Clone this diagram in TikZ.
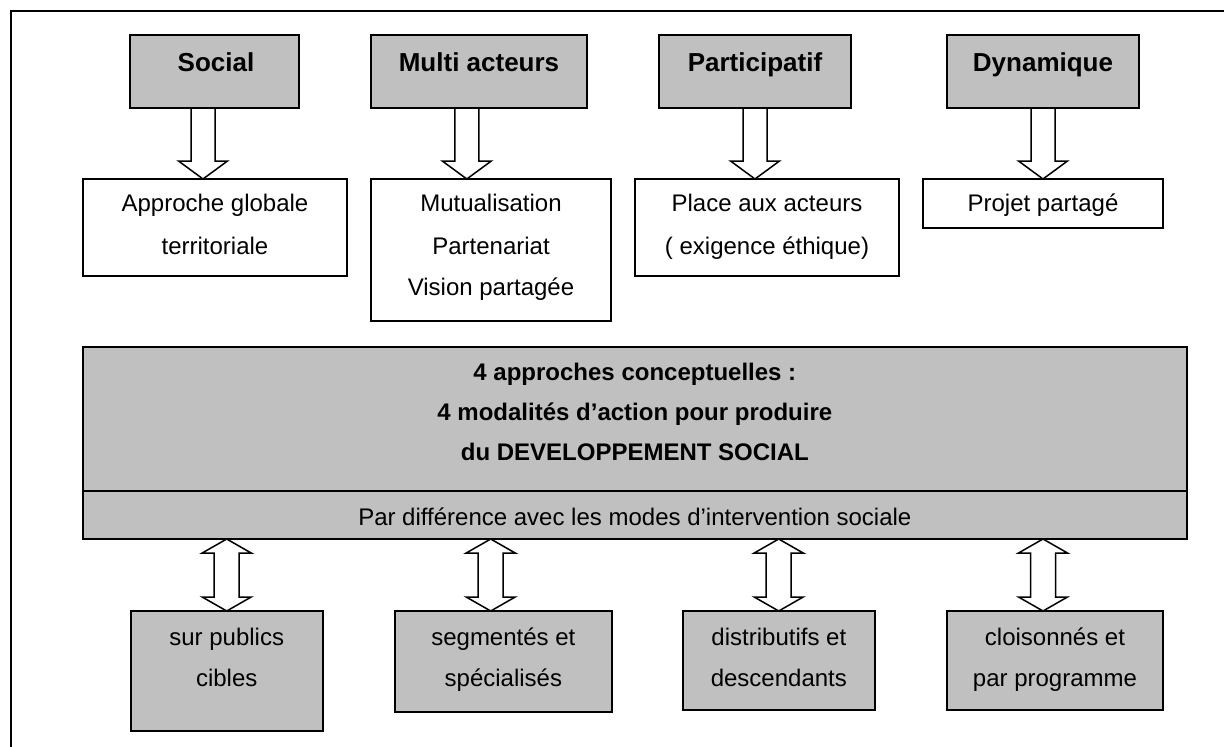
\documentclass[tikz,border=0pt]{standalone}
\usepackage{fontspec}
\setmainfont{Liberation Sans}
\usetikzlibrary{calc}
\definecolor{boxgray}{RGB}{192,192,192}
\newcommand{\blkdown}[3]{%
  \draw[blkarrow] let \p1=(#2.south), \p2=(#3.north) in
    (#1pt-12pt,\y1) -- (#1pt-12pt,\y2+18pt) -- (#1pt-24.5pt,\y2+18pt) -- (#1pt,\y2)
    -- (#1pt+24.5pt,\y2+18pt) -- (#1pt+12pt,\y2+18pt) -- (#1pt+12pt,\y1) -- cycle;}
\newcommand{\blkboth}[3]{%
  \draw[blkarrow] let \p1=(#2.south), \p2=(#3.north) in
    (#1pt,\y1) -- (#1pt+24.5pt,\y1-14pt) -- (#1pt+12.5pt,\y1-14pt)
    -- (#1pt+12.5pt,\y2+14pt) -- (#1pt+24.5pt,\y2+14pt) -- (#1pt,\y2)
    -- (#1pt-24.5pt,\y2+14pt) -- (#1pt-12.5pt,\y2+14pt)
    -- (#1pt-12.5pt,\y1-14pt) -- (#1pt-24.5pt,\y1-14pt) -- cycle;}
\begin{document}
\begin{tikzpicture}[x=1pt,y=-1pt,
  graybox/.style={draw=black, fill=boxgray, line width=1.8pt, rectangle, inner sep=0pt, outer sep=0pt},
  whitebox/.style={draw=black, fill=white, line width=1.8pt, rectangle, inner sep=0pt, outer sep=0pt},
  blkarrow/.style={draw=black, fill=white, line width=1.5pt, line join=miter},
  txt/.style={font=\fontsize{24}{28}\selectfont, inner sep=0pt, anchor=base},
  ttl/.style={font=\fontsize{26}{30}\selectfont\bfseries, inner sep=0pt, anchor=base},
  mtl/.style={font=\fontsize{24}{28}\selectfont\bfseries, inner sep=0pt, anchor=base}]
\useasboundingbox (0,0) rectangle (1224,747);
\fill[white] (0,0) rectangle (1224,747);
% outer frame
\draw[line width=2.2pt] (11,748) -- (11,11) -- (1225,11);

% top gray boxes
\node[graybox, minimum width=169, minimum height=73] (social) at (214.5,71.5) {};
\node[graybox, minimum width=216, minimum height=73] (multi) at (479,71.5) {};
\node[graybox, minimum width=192, minimum height=73] (partic) at (755,71.5) {};
\node[graybox, minimum width=192, minimum height=73] (dyn) at (1043,71.5) {};
\node[ttl] (socialt) at (216,71.5) {Social};
\node[ttl] (multit) at (479,71.5) {Multi acteurs};
\node[ttl] (partict) at (755,71.5) {Participatif};
\node[ttl] (dynt) at (1043,71.5) {Dynamique};

% second row white boxes
\node[whitebox, minimum width=264, minimum height=96.7] (approche) at (215,227.35) {};
\node[whitebox, minimum width=240, minimum height=142] (mutual) at (491,250) {};
\node[whitebox, minimum width=264, minimum height=96.7] (place) at (767,227.35) {};
\node[whitebox, minimum width=240, minimum height=49] (projet) at (1043,203.5) {};
\node[txt] (approche1) at (215,211.5) {Approche globale};
\node[txt] (approche2) at (215,254.5) {territoriale};
\node[txt] (mutual1) at (491,211) {Mutualisation};
\node[txt] (mutual2) at (491,254) {Partenariat};
\node[txt] (mutual3) at (491,295.5) {Vision partagée};
\node[txt] (place1) at (767,211) {Place aux acteurs};
\node[txt] (place2) at (767,254) {( exigence éthique)};
\node[txt] (projet1) at (1043,211.5) {Projet partagé};

% arrows top
\blkdown{203}{social}{approche}
\blkdown{466.8}{multi}{mutual}
\blkdown{755}{partic}{place}
\blkdown{1043}{dyn}{projet}

% middle box
\node[graybox, minimum width=1104.3, minimum height=144.3] (mainbox) at (634.85,418.85) {};
\node[graybox, minimum width=1104.3, minimum height=48] (parbox) at (634.85,515) {};
\node[mtl] (main1) at (634.85,380) {4 approches conceptuelles :};
\node[mtl] (main2) at (634.85,420) {4 modalités d’action pour produire};
\node[mtl] (main3) at (634.85,460) {du DEVELOPPEMENT SOCIAL};
\node[txt] (par1) at (634.85,525.5) {Par différence avec les modes d’intervention sociale};

% bottom boxes
\node[graybox, minimum width=192, minimum height=120] (b1) at (226.7,671) {};
\node[graybox, minimum width=216.7, minimum height=100.7] (b2) at (503.35,661.35) {};
\node[graybox, minimum width=191.7, minimum height=99] (b3) at (778.85,660.5) {};
\node[graybox, minimum width=216, minimum height=99] (b4) at (1055,660.5) {};
\node[txt] (b1a) at (226.7,645.5) {sur publics};
\node[txt] (b1b) at (226.7,686) {cibles};
\node[txt] (b2a) at (503.35,645.5) {segmentés et};
\node[txt] (b2b) at (503.35,686) {spécialisés};
\node[txt] (b3a) at (778.85,645.5) {distributifs et};
\node[txt] (b3b) at (778.85,686) {descendants};
\node[txt] (b4a) at (1055,645.5) {cloisonnés et};
\node[txt] (b4b) at (1055,686) {par programme};

% double arrows
\blkboth{226.7}{parbox}{b1}
\blkboth{490.7}{parbox}{b2}
\blkboth{778.7}{parbox}{b3}
\blkboth{1043}{parbox}{b4}
\end{tikzpicture}
\end{document}
